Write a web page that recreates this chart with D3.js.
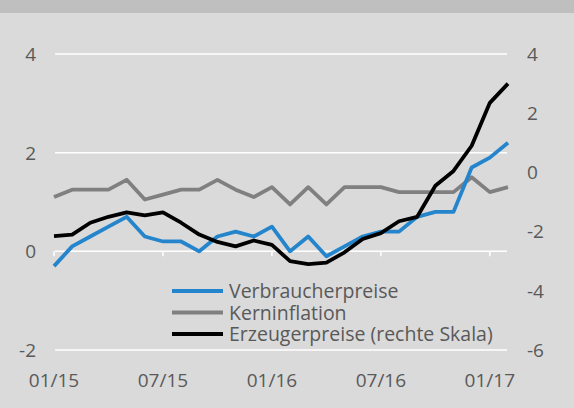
<!DOCTYPE html>
<html>
<head>
<meta charset="utf-8">
<script src="https://cdn.jsdelivr.net/npm/d3@7"></script>
<style>
	body { margin: 0; background: #dadada; }
	svg { display: block; font-family: "Open Sans", sans-serif; }
	.tick-label { fill: #595959; font-size: 19px; }
	.legend-label { fill: #595959; font-size: 19.5px; }
</style>
</head>
<body>
<div id="chart"></div>
<script>
var months = ["01/15", "02/15", "03/15", "04/15", "05/15", "06/15", "07/15", "08/15", "09/15", "10/15", "11/15", "12/15",
	"01/16", "02/16", "03/16", "04/16", "05/16", "06/16", "07/16", "08/16", "09/16", "10/16", "11/16", "12/16",
	"01/17", "02/17"];
var xTickLabels = ["01/15", "07/15", "01/16", "07/16", "01/17"];
var leftTicks = [4, 2, 0, -2];
var rightTicks = [4, 2, 0, -2, -4, -6];

var verbraucherpreise = [-0.3, 0.1, 0.3, 0.5, 0.7, 0.3, 0.2, 0.2, 0.0, 0.3, 0.4, 0.3,
	0.5, 0.0, 0.3, -0.1, 0.1, 0.3, 0.4, 0.4, 0.7, 0.8, 0.8, 1.7, 1.9, 2.2];
var kerninflation = [1.1, 1.25, 1.25, 1.25, 1.45, 1.05, 1.15, 1.25, 1.25, 1.45, 1.25, 1.1,
	1.3, 0.95, 1.3, 0.95, 1.3, 1.3, 1.3, 1.2, 1.2, 1.2, 1.2, 1.5, 1.2, 1.3];
var erzeugerpreise = [-2.15, -2.1, -1.7, -1.5, -1.35, -1.45, -1.35, -1.7, -2.1, -2.35, -2.5, -2.3,
	-2.45, -3.0, -3.1, -3.05, -2.7, -2.25, -2.05, -1.65, -1.5, -0.45, 0.05, 0.9, 2.35, 3.0];

var seriesNames = ["Verbraucherpreise", "Kerninflation", "Erzeugerpreise (rechte Skala)"];

var width = 574, height = 408;

var svg = d3.select("#chart")
	.append("svg")
	.attr("width", width)
	.attr("height", height)

svg.append("rect")
	.attr("width", width)
	.attr("height", height)
	.attr("fill", "#dadada")
svg.append("rect")
	.attr("width", width)
	.attr("height", 13)
	.attr("fill", "#bfbfbf")

var x = d3.scalePoint()
	.domain(months)
	.range([54, 508])

var yLeft = d3.scaleLinear()
	.domain([-2, 4])
	.range([350, 54])

var yRight = d3.scaleLinear()
	.domain([-6, 4])
	.range([350, 54])

// gridlines
svg.selectAll(".grid")
	.data(leftTicks)
	.enter()
	.append("line")
	.attr("class", "grid")
	.attr("x1", 55)
	.attr("x2", 507)
	.attr("y1", function (d) { return yLeft(d); })
	.attr("y2", function (d) { return yLeft(d); })
	.attr("stroke", "#fff")
	.attr("stroke-width", 1.5)

// small ticks under the zero line
svg.selectAll(".xtick")
	.data(xTickLabels)
	.enter()
	.append("line")
	.attr("class", "xtick")
	.attr("x1", function (d) { return x(d); })
	.attr("x2", function (d) { return x(d); })
	.attr("y1", yLeft(0))
	.attr("y2", yLeft(0) + 5)
	.attr("stroke", "#fff")
	.attr("stroke-width", 1.5)

svg.selectAll(".left-label")
	.data(leftTicks)
	.enter()
	.append("text")
	.attr("class", "tick-label")
	.attr("x", 36)
	.attr("y", function (d) { return yLeft(d); })
	.attr("dy", "0.36em")
	.attr("text-anchor", "end")
	.text(function (d) { return d; })

svg.selectAll(".right-label")
	.data(rightTicks)
	.enter()
	.append("text")
	.attr("class", "tick-label")
	.attr("x", 527)
	.attr("y", function (d) { return yRight(d); })
	.attr("dy", "0.36em")
	.attr("text-anchor", "start")
	.text(function (d) { return d; })

svg.selectAll(".x-label")
	.data(xTickLabels)
	.enter()
	.append("text")
	.attr("class", "tick-label")
	.attr("x", function (d) { return x(d); })
	.attr("y", 387)
	.attr("text-anchor", "middle")
	.text(function (d) { return d; })

var lineLeft = d3.line()
	.x(function (d, i) { return x(months[i]); })
	.y(function (d) { return yLeft(d); })

var lineRight = d3.line()
	.x(function (d, i) { return x(months[i]); })
	.y(function (d) { return yRight(d); })

var series = [
	{ values: kerninflation, line: lineLeft, color: "#808080" },
	{ values: verbraucherpreise, line: lineLeft, color: "#2485cc" },
	{ values: erzeugerpreise, line: lineRight, color: "#000000" }
]

svg.selectAll(".series")
	.data(series)
	.enter()
	.append("path")
	.attr("class", "series")
	.attr("fill", "none")
	.attr("stroke", function (d) { return d.color; })
	.attr("stroke-width", 3.8)
	.attr("stroke-linejoin", "round")
	.attr("d", function (d) { return d.line(d.values); })

// legend
var legendColors = ["#2485cc", "#808080", "#000000"];
var legend = svg.selectAll(".legend")
	.data(seriesNames)
	.enter()
	.append("g")
	.attr("class", "legend")
	.attr("transform", function (d, i) { return "translate(172," + (291 + i * 21.5) + ")"; })

legend.append("line")
	.attr("x1", 0)
	.attr("x2", 51)
	.attr("stroke", function (d, i) { return legendColors[i]; })
	.attr("stroke-width", 3.8)

legend.append("text")
	.attr("class", "legend-label")
	.attr("x", 57)
	.attr("dy", "0.36em")
	.text(function (d) { return d; })
</script>
</body>
</html>
